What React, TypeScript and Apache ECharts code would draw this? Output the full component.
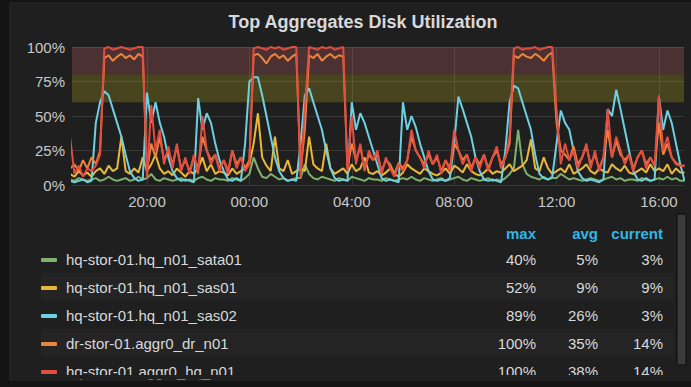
import React, { useEffect, useRef } from "react";
import * as echarts from "echarts";

// time grid: first point 17:00, one point every 10 minutes (hours since day-1 midnight)
const START_HOUR = 17;
const STEP_MIN = 10;

const sata01 = [
  4, 3, 5, 4, 3, 4, 5, 3, 4, 6, 4, 3, 4, 5, 3, 4, 6, 4, 5, 8, 4, 3, 5, 4,
  3, 4, 5, 3, 4, 3, 5, 6, 4, 3, 5, 4, 4, 3, 5, 4, 3, 5, 8, 20, 12, 6, 5, 8,
  6, 4, 5, 3, 4, 5, 5, 15, 8, 5, 4, 6, 5, 4, 3, 5, 4, 3, 6, 5, 4, 3, 5, 4,
  4, 3, 5, 4, 3, 4, 5, 4, 6, 4, 3, 5, 4, 3, 4, 5, 3, 4, 5, 6, 4, 3, 5, 4,
  3, 4, 5, 3, 4, 3, 5, 8, 12, 40, 15, 8, 6, 5, 4, 6, 4, 5, 5, 8, 6, 4, 5, 4,
  3, 4, 5, 4, 3, 4, 5, 6, 4, 5, 3, 4, 4, 3, 5, 4, 3, 4, 5, 4, 6, 4, 5, 3, 3,
];
const sas01 = [
  8, 6, 10, 7, 9, 6, 10, 12, 8, 14, 10, 12, 35, 10, 8, 12, 9, 20, 10, 15, 22, 12, 8, 10,
  7, 12, 9, 6, 10, 8, 12, 20, 10, 15, 8, 10, 9, 7, 12, 8, 10, 12, 15, 30, 52, 20, 14, 10,
  35, 12, 10, 18, 8, 10, 12, 10, 35, 15, 12, 10, 30, 12, 8, 10, 12, 8, 15, 10, 12, 20, 9, 8,
  10, 7, 9, 12, 8, 6, 9, 15, 12, 10, 8, 12, 10, 8, 7, 9, 12, 8, 14, 12, 9, 15, 10, 8,
  7, 9, 12, 8, 10, 9, 12, 15, 10, 12, 14, 18, 33, 12, 10, 20, 12, 8, 10, 12, 9, 15, 8, 10,
  12, 15, 10, 8, 12, 10, 9, 15, 12, 10, 14, 9, 8, 10, 12, 9, 15, 10, 12, 10, 15, 8, 12, 9, 9,
];
const sas02 = [
  3, 2, 3, 4, 2, 3, 45, 60, 68, 65, 55, 45, 35, 22, 10, 5, 3, 4, 67, 45, 60, 45, 35, 20,
  10, 5, 3, 4, 3, 2, 63, 40, 52, 45, 30, 18, 10, 4, 3, 5, 3, 30, 75, 78, 78, 65, 50, 35,
  20, 10, 5, 3, 4, 3, 30, 65, 70, 60, 50, 40, 25, 12, 5, 3, 4, 3, 60, 40, 52, 45, 35, 25,
  15, 5, 3, 4, 3, 2, 60, 40, 50, 42, 30, 20, 10, 4, 3, 4, 3, 5, 30, 64, 55, 45, 35, 20,
  10, 4, 3, 4, 3, 2, 25, 60, 72, 70, 60, 50, 40, 22, 8, 5, 4, 6, 30, 54, 45, 40, 25, 10,
  5, 3, 4, 3, 2, 4, 55, 50, 69, 55, 40, 25, 10, 4, 3, 5, 3, 4, 64, 40, 54, 45, 30, 15, 3,
];
const drAggr0 = [
  12, 15, 10, 18, 12, 20, 15, 25, 92, 94, 90, 93, 95, 92, 94, 91, 95, 93, 10, 30, 20, 35, 18, 25,
  15, 28, 12, 18, 10, 20, 12, 35, 25, 18, 22, 12, 18, 10, 25, 15, 20, 12, 18, 94, 95, 92, 88, 93,
  95, 92, 94, 90, 93, 95, 10, 40, 94, 92, 95, 90, 93, 95, 92, 94, 93, 12, 30, 18, 28, 12, 22, 18,
  22, 10, 18, 15, 8, 16, 12, 18, 35, 25, 20, 15, 22, 15, 20, 10, 18, 12, 30, 25, 18, 22, 12, 20,
  15, 22, 12, 20, 25, 15, 20, 30, 94, 92, 95, 93, 92, 95, 93, 90, 94, 96, 45, 25, 22, 18, 28, 15,
  20, 28, 15, 22, 12, 20, 40, 20, 32, 22, 18, 22, 12, 20, 25, 15, 20, 14, 45, 22, 30, 20, 16, 14, 14,
];
const hqAggr0 = [
  34, 8, 14, 6, 12, 10, 14, 22, 99, 100, 98, 99, 100, 99, 98, 99, 100, 100, 5, 58, 25, 40, 15, 28,
  12, 30, 10, 20, 8, 22, 8, 50, 25, 15, 22, 10, 18, 8, 25, 12, 20, 10, 15, 99, 100, 99, 98, 100,
  99, 100, 98, 99, 100, 100, 5, 55, 100, 99, 98, 100, 99, 100, 98, 99, 100, 10, 50, 15, 30, 10, 25, 18,
  25, 8, 20, 12, 6, 15, 10, 18, 40, 25, 20, 12, 25, 15, 22, 8, 18, 10, 40, 25, 15, 22, 10, 20,
  12, 22, 10, 20, 28, 12, 20, 35, 99, 100, 98, 99, 99, 100, 98, 99, 100, 100, 55, 15, 30, 18, 25, 12,
  20, 30, 12, 25, 10, 20, 55, 20, 35, 25, 15, 22, 10, 20, 25, 12, 20, 14, 65, 25, 35, 20, 15, 14, 14,
];

const seriesNames = [
  "hq-stor-01.hq_n01_sata01",
  "hq-stor-01.hq_n01_sas01",
  "hq-stor-01.hq_n01_sas02",
  "dr-stor-01.aggr0_dr_n01",
  "hq-stor-01.aggr0_hq_n01",
];
const seriesValues = [sata01, sas01, sas02, drAggr0, hqAggr0];
const seriesColors = ["#7eb26d", "#eab839", "#6ed0e0", "#ef843c", "#e24d42"];
const maxVals = ["40%", "52%", "89%", "100%", "100%"];
const avgVals = ["5%", "9%", "26%", "35%", "38%"];
const currentVals = ["3%", "9%", "3%", "14%", "14%"];
const legendHeaders = ["max", "avg", "current"];
const xTickHours = [20, 24, 28, 32, 36, 40];
const thresholdBands = [
  { from: 80, to: 100, color: "rgba(234,112,112,0.22)" },
  { from: 60, to: 80, color: "rgba(216,200,27,0.22)" },
];

const FONT = "'Liberation Sans', Arial, Helvetica, sans-serif";

export default function App() {
  const ref = useRef<HTMLDivElement>(null);

  useEffect(() => {
    if (!ref.current) return;
    const chart = echarts.init(ref.current, undefined, { renderer: "svg" });

    const series: any[] = seriesValues.map((vals, si) => ({
      type: "line",
      name: seriesNames[si],
      data: vals.map((v, i) => [START_HOUR + (i * STEP_MIN) / 60, v]),
      showSymbol: false,
      symbol: "none",
      lineStyle: { color: seriesColors[si], width: 2 },
      itemStyle: { color: seriesColors[si] },
      silent: true,
      clip: true,
      markArea:
        si === 0
          ? {
              silent: true,
              data: thresholdBands.map((b) => [
                { yAxis: b.from, itemStyle: { color: b.color } },
                { yAxis: b.to },
              ]),
            }
          : undefined,
    }));

    const graphics: any[] = [];
    // panel background
    graphics.push({
      type: "rect",
      z: -20,
      shape: { x: 10, y: 3, width: 700, height: 377 },
      style: { fill: "#1f1f1f", stroke: "#2a2a2a", lineWidth: 1 },
    });
    // title
    graphics.push({
      type: "text",
      x: 363,
      y: 22,
      style: {
        text: "Top Aggregates Disk Utilization",
        fill: "#d8d9da",
        font: `bold 18px ${FONT}`,
        align: "center",
        verticalAlign: "middle",
      },
    });
    // legend headers
    const colRight = [536, 598, 663];
    legendHeaders.forEach((h, i) => {
      graphics.push({
        type: "text",
        x: colRight[i],
        y: 233,
        style: {
          text: h,
          fill: "#33b5e5",
          font: `bold 15px ${FONT}`,
          align: "right",
          verticalAlign: "middle",
        },
      });
    });
    // legend rows
    seriesNames.forEach((name, i) => {
      const cy = 259 + i * 28;
      if (i % 2 === 1) {
        graphics.push({
          type: "rect",
          z: -10,
          shape: { x: 41, y: cy - 14, width: 633, height: 28 },
          style: { fill: "#242424" },
        });
      }
      graphics.push({
        type: "rect",
        shape: { x: 41, y: cy - 1, width: 16, height: 4, r: 1 },
        style: { fill: seriesColors[i] },
      });
      graphics.push({
        type: "text",
        x: 66,
        y: cy,
        style: {
          text: name,
          fill: "#d8d9da",
          font: `15px ${FONT}`,
          align: "left",
          verticalAlign: "middle",
        },
      });
      [maxVals[i], avgVals[i], currentVals[i]].forEach((v, k) => {
        graphics.push({
          type: "text",
          x: colRight[k],
          y: cy,
          style: {
            text: v,
            fill: "#d8d9da",
            font: `15px ${FONT}`,
            align: "right",
            verticalAlign: "middle",
          },
        });
      });
    });
    // clip strip at the bottom of the legend list
    graphics.push({
      type: "rect",
      z: 50,
      shape: { x: 11, y: 375, width: 699, height: 4.5 },
      style: { fill: "#1f1f1f" },
    });
    // scrollbar
    graphics.push({
      type: "rect",
      z: 50,
      shape: { x: 677, y: 214, width: 9, height: 151 },
      style: { fill: "#3b3b3b", stroke: "#0d0d0d", lineWidth: 1 },
    });

    chart.setOption({
      animation: false,
      backgroundColor: "#141414",
      grid: { left: 72, right: 7, top: 47, bottom: 202, containLabel: false },
      xAxis: {
        type: "value",
        min: 17.07,
        max: 40.98,
        axisLine: { show: false },
        axisTick: { show: false, customValues: xTickHours },
        axisLabel: {
          customValues: xTickHours,
          color: "#c8c8c8",
          fontSize: 15,
          fontFamily: FONT,
          margin: 9,
          formatter: (v: number) => {
            const h = Math.round(v) % 24;
            return (h < 10 ? "0" : "") + h + ":00";
          },
        },
        splitLine: { show: true, lineStyle: { color: "#383838", width: 1 } },
      },
      yAxis: {
        type: "value",
        min: 0,
        max: 100,
        interval: 25,
        axisLine: { show: false },
        axisTick: { show: false },
        axisLabel: {
          color: "#c8c8c8",
          fontSize: 15,
          fontFamily: FONT,
          margin: 7,
          formatter: "{value}%",
        },
        splitLine: { show: true, lineStyle: { color: "#383838", width: 1 } },
      },
      graphic: { elements: graphics },
      series,
    });

    return () => chart.dispose();
  }, []);

  return (
    <div
      style={{ position: "fixed", left: 0, top: 0, width: 691, height: 387, background: "#141414" }}
    >
      <div ref={ref} style={{ width: 691, height: 387 }} />
    </div>
  );
}
